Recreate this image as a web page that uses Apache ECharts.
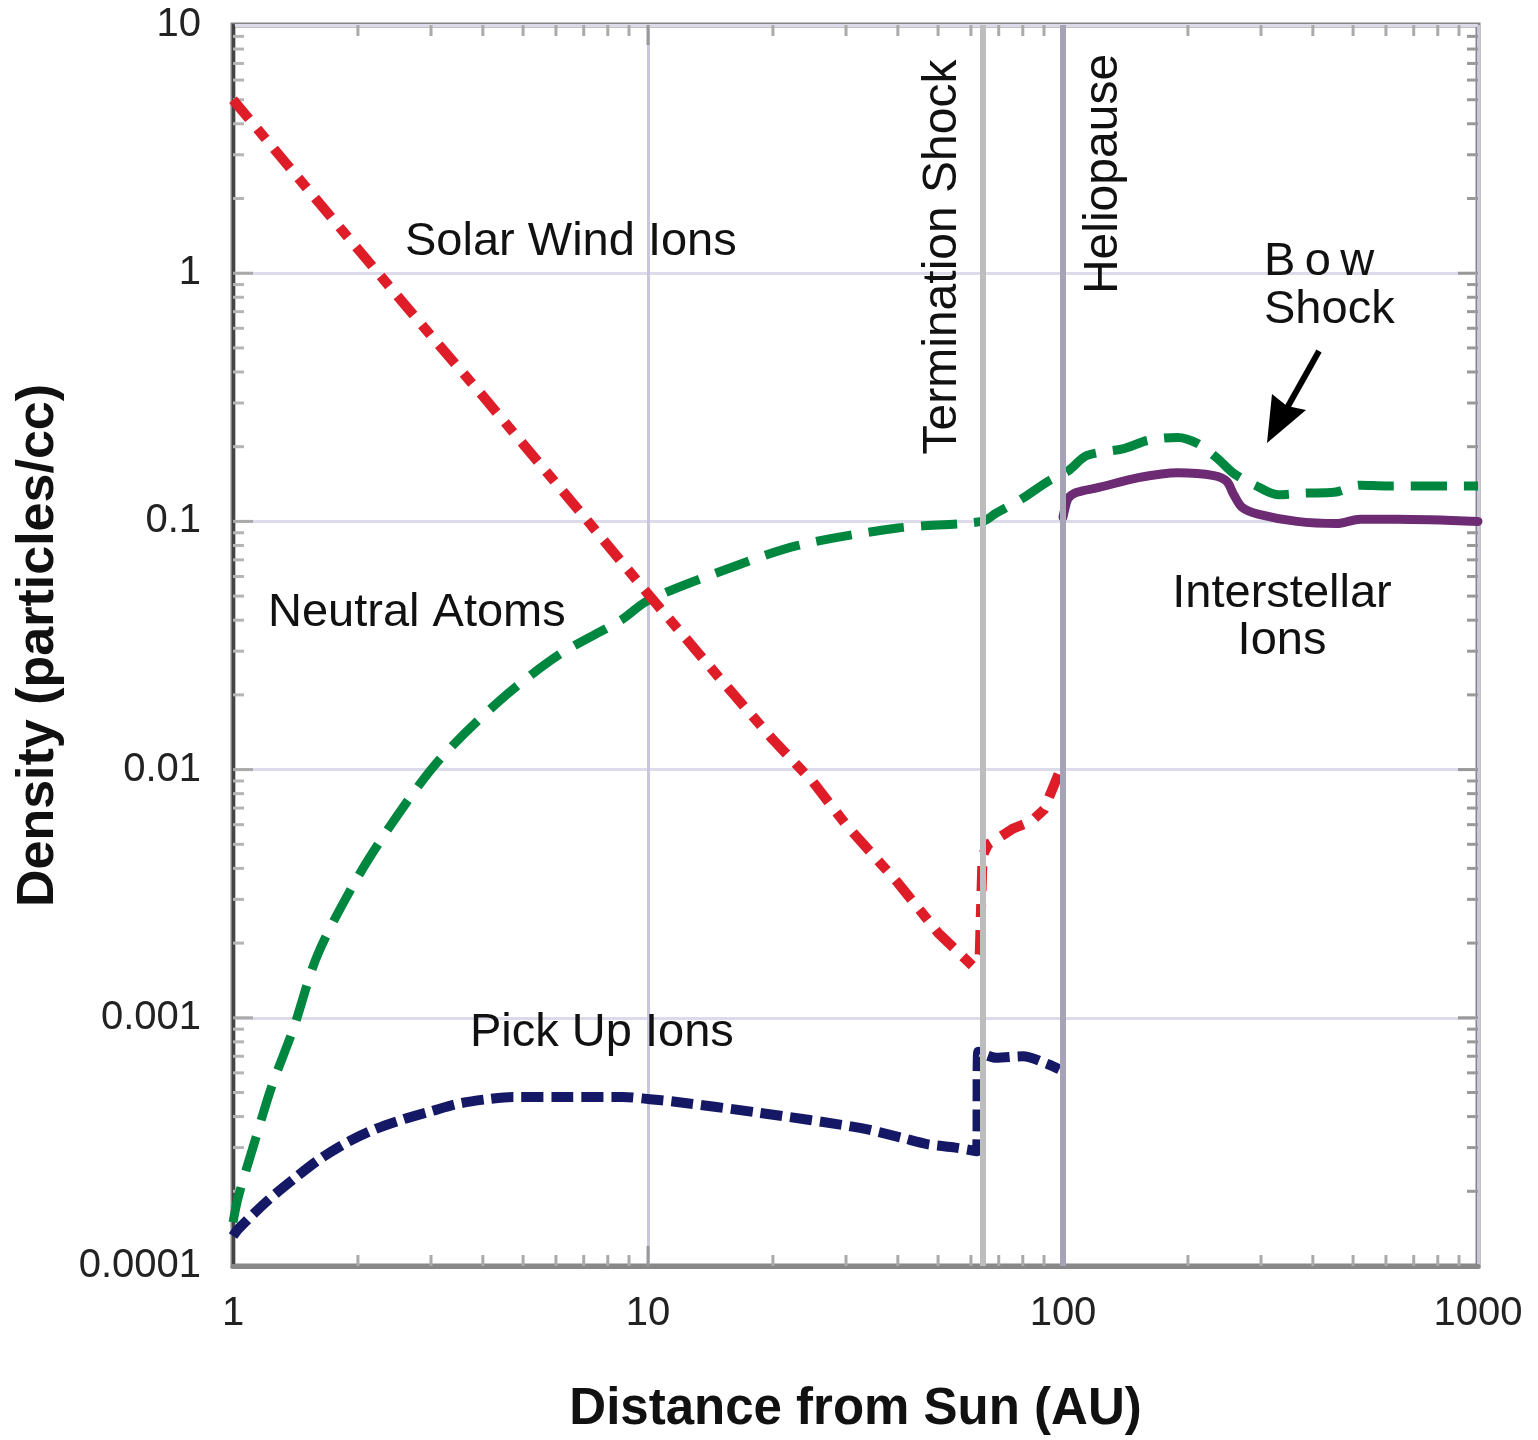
<!DOCTYPE html>
<html>
<head>
<meta charset="utf-8">
<title>Density vs Distance from Sun</title>
<script src="https://cdn.jsdelivr.net/npm/echarts@6/dist/echarts.min.js"></script>
<style>
  html, body { margin: 0; padding: 0; background: #ffffff; }
  #chart { width: 1538px; height: 1440px; }
</style>
</head>
<body>
<div id="chart"></div>
<script>
// Solar wind ions (dotted red)
const solarWindX = [1, 1.36, 2, 3, 4, 5, 7, 10, 15, 20, 25, 30, 40, 50, 60.5, 63, 64, 66, 76, 84, 90, 95, 99];
const solarWindY = [5.0, 2.7, 1.25, 0.56, 0.32, 0.205, 0.105, 0.051, 0.023, 0.0132, 0.0089, 0.0060, 0.0035, 0.0022, 0.00162, 0.0018, 0.0045, 0.0050, 0.0058, 0.0062, 0.0069, 0.0086, 0.0102];

// Neutral atoms (dashed green)
const neutralX = [1, 1.03, 1.13, 1.24, 1.4, 1.6, 2.0, 2.5, 3.15, 4.4, 6.1, 8.6, 10, 15, 23, 40, 64, 69, 80, 92, 103, 114, 141, 160, 189, 211, 235, 258, 290, 330, 380, 450, 520, 600, 1000];
const neutralY = [0.00015, 0.00019, 0.00032, 0.00053, 0.00091, 0.0018, 0.0037, 0.0066, 0.011, 0.019, 0.029, 0.040, 0.048, 0.063, 0.080, 0.094, 0.100, 0.108, 0.124, 0.145, 0.160, 0.184, 0.197, 0.212, 0.218, 0.206, 0.18, 0.156, 0.14, 0.128, 0.13, 0.131, 0.14, 0.139, 0.139];

// Pick-up ions (dashed navy)
const pickupX = [1, 1.03, 1.21, 1.4, 1.62, 1.89, 2.2, 2.57, 3.0, 3.47, 4.1, 4.73, 6.5, 8.7, 10.1, 11.5, 18.6, 32.4, 40.5, 47, 55, 62, 62.5, 69, 80, 92, 98];
const pickupY = [0.000132, 0.000141, 0.000183, 0.000224, 0.00027, 0.000316, 0.000356, 0.00039, 0.00042, 0.00045, 0.00047, 0.00048, 0.00048, 0.00048, 0.00047, 0.00046, 0.000414, 0.00036, 0.00033, 0.00031, 0.0003, 0.00029, 0.00073, 0.00069, 0.0007, 0.00065, 0.00062];

// Interstellar ions (solid purple)
const interstellarX = [100, 101, 103, 108, 122, 152, 189, 231, 248, 258, 270, 295, 366, 457, 520, 640, 1000];
const interstellarY = [0.104, 0.112, 0.124, 0.131, 0.137, 0.150, 0.157, 0.153, 0.145, 0.128, 0.114, 0.107, 0.100, 0.098, 0.102, 0.102, 0.100];

// Boundary positions (AU)
const boundaryX = [64, 100];
const boundaryNames = ['Termination Shock', 'Heliopause'];

// Axis tick labels
const xTickLabels = ['1', '10', '100', '1000'];
const yTickLabels = ['0.0001', '0.001', '0.01', '0.1', '1', '10'];

const X_MIN = 1, X_MAX = 1000, Y_MIN = 0.0001, Y_MAX = 10;
const FONT = "'Liberation Sans', Arial, Helvetica, sans-serif";

function pairs(xs, ys) { return xs.map((x, i) => [x, ys[i]]); }

// decade sub-ticks 2..9 within each decade
function subTicks(lo, hi) {
  const out = [];
  for (let d = lo; d < hi * 0.999; d *= 10) {
    for (let m = 2; m <= 9; m++) out.push(+(d * m).toPrecision(6));
  }
  return out;
}
const xMinor = subTicks(X_MIN, X_MAX);
const yMinor = subTicks(Y_MIN, Y_MAX);
const xMajorInner = [10, 100];
const yMajorInner = [0.001, 0.01, 0.1, 1];

const xTickData = xMinor.map(v => [v, 1, 11]).concat(xMajorInner.map(v => [v, 1, 20]));
const yTickData = yMinor.map(v => [10, v, 11]).concat(yMajorInner.map(v => [10, v, 20]));

const chart = echarts.init(document.getElementById('chart'), null, { renderer: 'canvas' });

function labelFor(list, v) {
  const k = Math.round(Math.log10(v) - Math.log10(list === xTickLabels ? X_MIN : Y_MIN));
  return list[k] !== undefined ? list[k] : '';
}

const option = {
  animation: false,
  backgroundColor: '#ffffff',
  grid: {
    left: 233, right: 60, top: 25, bottom: 173,
    show: true, borderColor: '#858585', borderWidth: 5, backgroundColor: 'transparent'
  },
  xAxis: {
    type: 'log', logBase: 10, min: X_MIN, max: X_MAX,
    name: 'Distance from Sun (AU)', nameLocation: 'middle', nameGap: 118,
    nameTextStyle: { fontFamily: FONT, fontSize: 51, fontWeight: 'bold', color: '#111' },
    axisLine: { show: true, lineStyle: { color: '#888', width: 5 } },
    axisTick: { show: false },
    axisLabel: {
      fontFamily: FONT, fontSize: 40, color: '#222', margin: 28,
      formatter: v => labelFor(xTickLabels, v)
    },
    splitLine: { show: true, lineStyle: { color: '#c9c6dd', width: 3 } }
  },
  yAxis: {
    type: 'log', logBase: 10, min: Y_MIN, max: Y_MAX,
    name: 'Density (particles/cc)', nameLocation: 'middle', nameGap: 168,
    nameTextStyle: { fontFamily: FONT, fontSize: 52, fontWeight: 'bold', color: '#111' },
    axisLine: { show: true, lineStyle: { color: '#444', width: 3 } },
    axisTick: { show: false },
    axisLabel: {
      fontFamily: FONT, fontSize: 40, color: '#222', margin: 32,
      padding: [0, 0, 8, 0],
      formatter: v => labelFor(yTickLabels, v)
    },
    splitLine: { show: true, lineStyle: { color: '#dcdbe9', width: 3 } }
  },
  series: [
    {
      // boundary lines
      type: 'line', z: 1, data: [[1, 0.0001]], symbol: 'none',
      lineStyle: { opacity: 0 }, silent: true,
      markLine: {
        silent: true, symbol: ['none', 'none'], label: { show: false },
        data: [
          { xAxis: boundaryX[0], name: boundaryNames[0], lineStyle: { color: '#bdbdbd', width: 6, type: 'solid' } },
          { xAxis: boundaryX[1], name: boundaryNames[1], lineStyle: { color: '#a5a3b5', width: 6, type: 'solid' } }
        ]
      }
    },
    {
      // x-axis ticks on bottom and top edges
      type: 'custom', z: 1, silent: true, data: xTickData,
      renderItem: function (params, api) {
        const v = api.value(0), len = api.value(2);
        const b = api.coord([v, Y_MIN]);
        const t = api.coord([v, Y_MAX]);
        const st = { stroke: len > 15 ? '#999' : '#aaa', lineWidth: 3 };
        return {
          type: 'group', children: [
            { type: 'line', shape: { x1: b[0], y1: b[1], x2: b[0], y2: b[1] - len }, style: st },
            { type: 'line', shape: { x1: t[0], y1: t[1], x2: t[0], y2: t[1] + len }, style: st }
          ]
        };
      }
    },
    {
      // y-axis ticks on left and right edges
      type: 'custom', z: 1, silent: true, data: yTickData,
      renderItem: function (params, api) {
        const v = api.value(1), len = api.value(2);
        const l = api.coord([X_MIN, v]);
        const r = api.coord([X_MAX, v]);
        const st = { stroke: len > 15 ? '#aaa' : '#b5b5b5', lineWidth: 3 };
        return {
          type: 'group', children: [
            { type: 'line', shape: { x1: l[0], y1: l[1], x2: l[0] + len, y2: l[1] }, style: st },
            { type: 'line', shape: { x1: r[0], y1: r[1], x2: r[0] - len, y2: r[1] }, style: { stroke: '#999', lineWidth: 3 } }
          ]
        };
      }
    },
    {
      name: 'Neutral Atoms', type: 'line', z: 3,
      data: pairs(neutralX, neutralY), symbol: 'none', smooth: 0.3,
      lineStyle: { color: '#00873f', width: 9, type: [36, 17], cap: 'butt' }
    },
    {
      name: 'Interstellar Ions', type: 'line', z: 3,
      data: pairs(interstellarX, interstellarY), symbol: 'none', smooth: 0.3,
      lineStyle: { color: '#6c2b72', width: 9, type: 'solid', cap: 'round' }
    },
    {
      name: 'Pick Up Ions', type: 'line', z: 3,
      data: pairs(pickupX, pickupY), symbol: 'none', smooth: 0.3,
      lineStyle: { color: '#151965', width: 10, type: [22, 8], cap: 'butt' }
    },
    {
      name: 'Solar Wind Ions', type: 'line', z: 4,
      data: pairs(solarWindX, solarWindY), symbol: 'none', smooth: false,
      lineStyle: { color: '#de1d29', width: 10, type: [25, 13, 13, 13], cap: 'butt', join: 'round' }
    }
  ],
  graphic: [
    { type: 'text', x: 405, y: 242, z: 10, style: { text: 'Solar Wind Ions', fontFamily: FONT, fontSize: 47, fill: '#111', align: 'left', verticalAlign: 'middle' } },
    { type: 'text', x: 268, y: 613, z: 10, style: { text: 'Neutral Atoms', fontFamily: FONT, fontSize: 47, fill: '#111', align: 'left', verticalAlign: 'middle' } },
    { type: 'text', x: 470, y: 1033, z: 10, style: { text: 'Pick Up Ions', fontFamily: FONT, fontSize: 47, fill: '#111', align: 'left', verticalAlign: 'middle' } },
    { type: 'text', x: 1282, y: 618, z: 10, style: { text: 'Interstellar\nIons', fontFamily: FONT, fontSize: 47, lineHeight: 47, fill: '#111', align: 'center', verticalAlign: 'middle' } },
    { type: 'text', x: 1264, y: 286, z: 10, style: { text: 'B\u2009o\u2009w\nShock', fontFamily: FONT, fontSize: 47, lineHeight: 48, fill: '#111', align: 'left', verticalAlign: 'middle' } },
    { type: 'text', x: 943, y: 257, rotation: Math.PI / 2, z: 10, style: { text: boundaryNames[0], fontFamily: FONT, fontSize: 48, fill: '#111', align: 'center', verticalAlign: 'middle' } },
    { type: 'text', x: 1104, y: 174, rotation: Math.PI / 2, z: 10, style: { text: boundaryNames[1], fontFamily: FONT, fontSize: 48, fill: '#111', align: 'center', verticalAlign: 'middle' } },
    // arrow pointing at the bow shock
    { type: 'line', z: 10, shape: { x1: 1319, y1: 351, x2: 1287, y2: 408 }, style: { stroke: '#000', lineWidth: 6 } },
    { type: 'polygon', z: 10, shape: { points: [[1267, 443], [1272, 394], [1287, 406], [1306, 410]] }, style: { fill: '#000' } }
  ]
};

chart.setOption(option);
</script>
</body>
</html>
